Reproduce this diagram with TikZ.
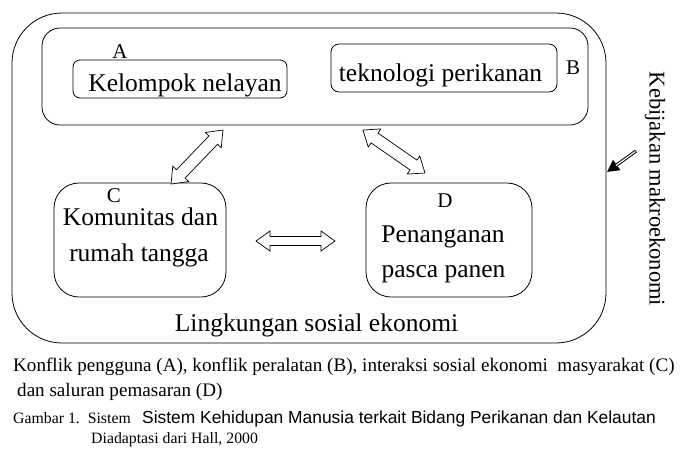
\documentclass[tikz,border=0pt]{standalone}
\usepackage{fontspec}
\setmainfont{Liberation Serif}
\newfontfamily\arialf{Liberation Sans}
\usetikzlibrary{calc,arrows.meta}
% hollow double arrow between two named coordinates
% #1 start, #2 end, #3 head half-width, #4 shaft half-width, #5 head length
\newcommand\hollowarrow[5]{%
  \draw[harr]
    (#1)
    -- ($($(#1)!#5!(#2)$)!#3!90:(#2)$)
    -- ($($(#1)!#5!(#2)$)!#4!90:(#2)$)
    -- ($($(#2)!#5!(#1)$)!#4!-90:(#1)$)
    -- ($($(#2)!#5!(#1)$)!#3!-90:(#1)$)
    -- (#2)
    -- ($($(#2)!#5!(#1)$)!#3!90:(#1)$)
    -- ($($(#2)!#5!(#1)$)!#4!90:(#1)$)
    -- ($($(#1)!#5!(#2)$)!#4!-90:(#2)$)
    -- ($($(#1)!#5!(#2)$)!#3!-90:(#2)$)
    -- cycle;}
\begin{document}
\begin{tikzpicture}[x=1pt,y=-1pt,
  box/.style={draw, line width=0.8pt, inner sep=0pt},
  harr/.style={draw, line width=0.7pt, fill=white, line join=miter},
  big/.style={font=\fontsize{25.5}{30}\selectfont, inner sep=0pt, anchor=base},
  lab/.style={font=\fontsize{21}{25}\selectfont, inner sep=0pt, anchor=base},
  captxt/.style={font=\fontsize{19.1}{23}\selectfont, inner sep=0pt, anchor=base west},
  captwo/.style={font=\fontsize{15.8}{19}\selectfont, inner sep=0pt, anchor=base west}]
\useasboundingbox (0,0) rectangle (686,448);

% boxes
\node[box, rounded corners=50pt, minimum width=594pt, minimum height=330pt] (outer) at (309,178) {};
\node[box, rounded corners=18pt, minimum width=546pt, minimum height=97pt] (inner) at (315,76.5) {};
\node[box, rounded corners=7pt, minimum width=214pt, minimum height=38pt] (kel) at (180,79) {};
\node[box, rounded corners=8pt, minimum width=226pt, minimum height=48pt] (tek) at (444,68) {};
\node[box, rounded corners=25pt, minimum width=172pt, minimum height=114pt] (cbox) at (140,240) {};
\node[box, rounded corners=25pt, minimum width=166pt, minimum height=114pt] (dbox) at (449,240) {};

% texts
\node[big] (tkel) at (185,91) {Kelompok nelayan};
\node[big] (ttek) at (440.5,81) {teknologi perikanan};
\node[lab] (la) at (120,58) {A};
\node[lab] (lb) at (573,74) {B};
\node[lab] (lc) at (114,202) {C};
\node[lab] (ld) at (445,207) {D};
\node[big] (tc1) at (140.5,225) {Komunitas dan};
\node[big] (tc2) at (139,261) {rumah tangga};
\node[big] (td1) at (443,242) {Penanganan};
\node[big] (td2) at (443.5,277) {pasca panen};
\node[big] (tling) at (316.5,331) {Lingkungan sosial ekonomi};
\node[font=\fontsize{22.5}{27}\selectfont, inner sep=0pt, rotate=-90] (tkeb) at (655,189) {Kebijakan makroekonomi};

% connectors
\coordinate (a1) at (171,184);
\coordinate (a2) at (223,130);
\coordinate (b1) at (363,130);
\coordinate (b2) at (425,173);
\coordinate (h1) at (256,241);
\coordinate (h2) at (335,241);
\hollowarrow{a1}{a2}{11pt}{6pt}{14pt}
\hollowarrow{b1}{b2}{11pt}{6pt}{14pt}
\hollowarrow{h1}{h2}{10pt}{4.5pt}{14pt}

\coordinate (k1) at (636,151);
\coordinate (k2) at (607,172);
\draw[line width=3.2pt, -{Triangle[length=12pt,width=12pt]}] (k1) -- (k2);
\draw[line width=1.2pt, white, shorten >=11pt, shorten <=0.8pt] (k1) -- (k2);

% caption
\node[captxt] (c1) at (13,371) {Konflik pengguna (A), konflik peralatan (B), interaksi sosial ekonomi\ \ masyarakat (C)};
\node[captxt] (c2) at (17,396) {dan saluran pemasaran (D)};
\node[captwo] (c3) at (13,423) {Gambar 1.\ \ Sistem};
\node[font=\arialf\fontsize{17.4}{21}\selectfont, inner sep=0pt, anchor=base west] (c3b) at (142,423) {Sistem Kehidupan Manusia terkait Bidang Perikanan dan Kelautan};
\node[captwo] (c4) at (91,443.5) {Diadaptasi dari Hall, 2000};
\end{tikzpicture}
\end{document}
